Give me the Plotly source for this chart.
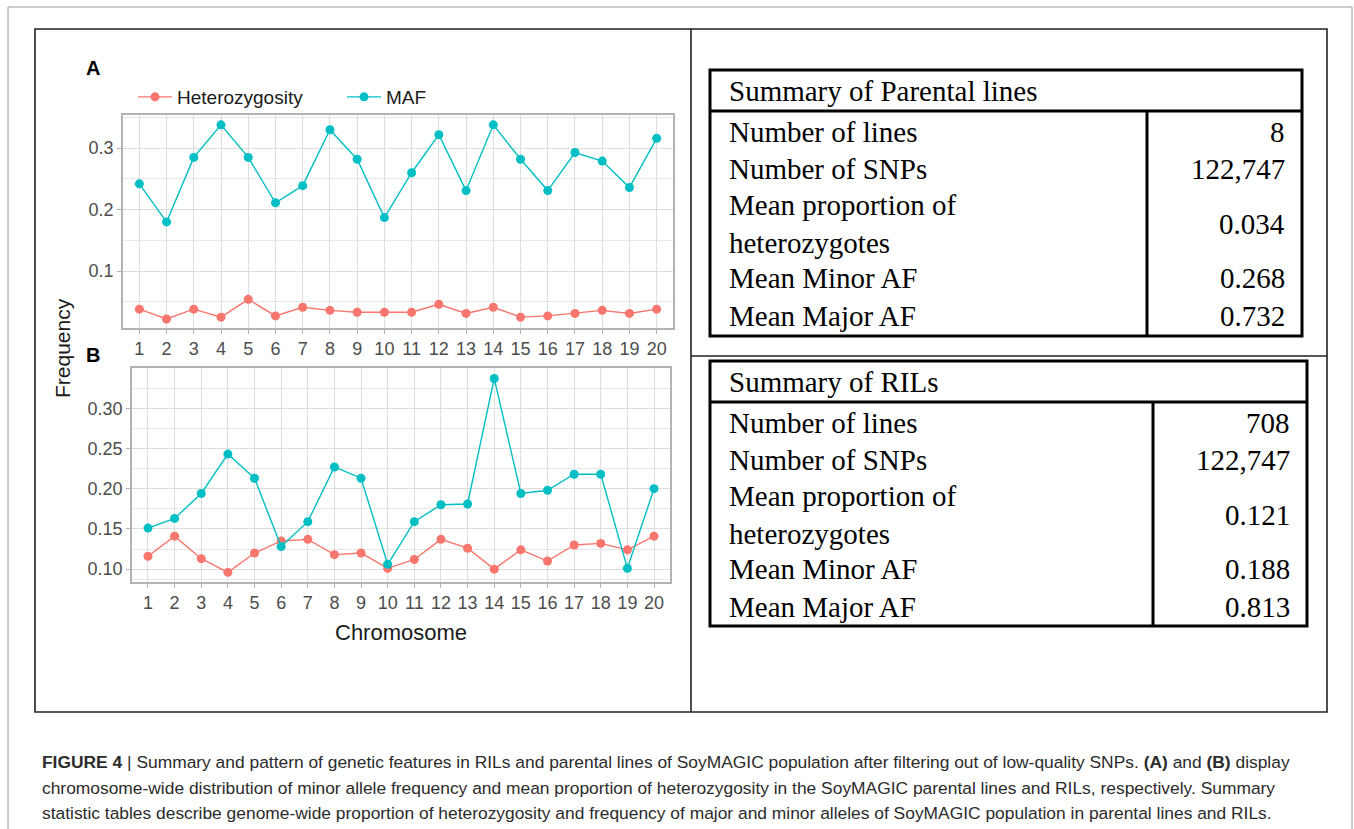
import plotly.graph_objects as go

W, H = 1354, 829

# ---------------- data ----------------
chromosomes = list(range(1, 21))

# Panel A: parental lines
parental_het = [0.038, 0.022, 0.038, 0.025, 0.054, 0.027, 0.041, 0.036, 0.033, 0.033,
                0.033, 0.046, 0.031, 0.041, 0.025, 0.027, 0.031, 0.036, 0.031, 0.038]
parental_maf = [0.242, 0.180, 0.285, 0.338, 0.285, 0.211, 0.239, 0.330, 0.282, 0.187,
                0.260, 0.322, 0.231, 0.338, 0.282, 0.231, 0.293, 0.279, 0.236, 0.316]

# Panel B: RILs
ril_het = [0.116, 0.141, 0.113, 0.096, 0.120, 0.135, 0.137, 0.118, 0.120, 0.101,
           0.112, 0.137, 0.126, 0.100, 0.124, 0.110, 0.130, 0.132, 0.124, 0.141]
ril_maf = [0.151, 0.163, 0.194, 0.243, 0.213, 0.128, 0.159, 0.227, 0.213, 0.106,
           0.159, 0.180, 0.181, 0.337, 0.194, 0.198, 0.218, 0.218, 0.101, 0.200]

series_names = ["Heterozygosity", "MAF"]

# Summary tables
parental_title = "Summary of Parental lines"
ril_title = "Summary of RILs"
table_labels = ["Number of lines", "Number of SNPs", "Mean proportion of<br>heterozygotes",
                "Mean Minor AF", "Mean Major AF"]
parental_values = ["8", "122,747", "0.034", "0.268", "0.732"]
ril_values = ["708", "122,747", "0.121", "0.188", "0.813"]

caption_lines = [
    "<b>FIGURE 4</b> | Summary and pattern of genetic features in RILs and parental lines of SoyMAGIC population after filtering out of low-quality SNPs. <b>(A)</b> and <b>(B)</b> display",
    "chromosome-wide distribution of minor allele frequency and mean proportion of heterozygosity in the SoyMAGIC parental lines and RILs, respectively. Summary",
    "statistic tables describe genome-wide proportion of heterozygosity and frequency of major and minor alleles of SoyMAGIC population in parental lines and RILs.",
]

# ---------------- styling ----------------
RED = "#F8766D"
TEAL = "#00BFC4"
GRID = "#DEDEDE"
MINOR = "#E8E8E8"
BORDER = "#B3B3B3"
TICKC = "#4D4D4D"


def px(x):
    return x / W


def py(y):
    return 1 - y / H


fig = go.Figure()

for xs, ys, name, color, ax, show in [
    (chromosomes, parental_het, series_names[0], RED, ("x", "y"), True),
    (chromosomes, parental_maf, series_names[1], TEAL, ("x", "y"), True),
    (chromosomes, ril_het, series_names[0], RED, ("x2", "y2"), False),
    (chromosomes, ril_maf, series_names[1], TEAL, ("x2", "y2"), False),
]:
    fig.add_trace(go.Scatter(
        x=xs, y=ys, name=name, mode="lines+markers",
        line=dict(color=color, width=1.4),
        marker=dict(color=color, size=9),
        xaxis=ax[0], yaxis=ax[1], showlegend=show, legendgroup=name,
    ))

tickfont = dict(family="Liberation Sans, Arial, sans-serif", size=18, color=TICKC)

xcommon = dict(range=[0.4, 20.6], tickmode="array", tickvals=chromosomes,
               ticktext=[str(c) for c in chromosomes],
               showgrid=True, gridcolor=GRID, gridwidth=1,
               showline=True, linecolor=BORDER, linewidth=1.5, mirror=True,
               ticks="outside", ticklen=4, tickcolor=BORDER, tickfont=tickfont,
               zeroline=False, fixedrange=True)

fig.update_layout(
    width=W, height=H,
    margin=dict(l=0, r=0, t=0, b=0),
    paper_bgcolor="white", plot_bgcolor="white",
    xaxis=dict(domain=[px(123), px(673)], anchor="y", **xcommon),
    yaxis=dict(domain=[py(328), py(115)], anchor="x", range=[0.0073, 0.354],
               tickmode="array", tickvals=[0.1, 0.2, 0.3], ticktext=["0.1", "0.2", "0.3"],
               showgrid=True, gridcolor=GRID, gridwidth=1,
               minor=dict(tickmode="array", tickvals=[0.05, 0.15, 0.25, 0.35],
                          showgrid=True, gridcolor=MINOR, gridwidth=1, ticklen=0),
               showline=True, linecolor=BORDER, linewidth=1.5, mirror=True,
               ticks="outside", ticklen=4, tickcolor=BORDER, tickfont=tickfont,
               zeroline=False, fixedrange=True),
    xaxis2=dict(domain=[px(132), px(670)], anchor="y2", **xcommon),
    yaxis2=dict(domain=[py(582), py(368)], anchor="x2", range=[0.084, 0.35],
                tickmode="array", tickvals=[0.10, 0.15, 0.20, 0.25, 0.30],
                ticktext=["0.10", "0.15", "0.20", "0.25", "0.30"],
                showgrid=True, gridcolor=GRID, gridwidth=1,
                minor=dict(tickmode="array", tickvals=[0.0875, 0.125, 0.175, 0.225, 0.275, 0.325],
                           showgrid=True, gridcolor=MINOR, gridwidth=1, ticklen=0),
                showline=True, linecolor=BORDER, linewidth=1.5, mirror=True,
                ticks="outside", ticklen=4, tickcolor=BORDER, tickfont=tickfont,
                zeroline=False, fixedrange=True),
    legend=dict(orientation="h", x=px(133), y=py(97), xanchor="left", yanchor="middle",
                font=dict(family="Liberation Sans, Arial, sans-serif", size=19, color="#1A1A1A"),
                bgcolor="rgba(0,0,0,0)", itemwidth=34, entrywidth=160, entrywidthmode="pixels",
                traceorder="normal"),
    showlegend=True,
)

shapes = []
# outer light frame
shapes.append(dict(type="rect", xref="paper", yref="paper", x0=px(8), x1=px(1352), y0=py(836), y1=py(7),
                   line=dict(color="#9A9A9A", width=1), fillcolor="rgba(0,0,0,0)", layer="below"))
# inner black box
shapes.append(dict(type="rect", xref="paper", yref="paper", x0=px(35), x1=px(1327), y0=py(712), y1=py(29),
                   line=dict(color="#222222", width=1.6), fillcolor="rgba(0,0,0,0)"))
# vertical divider and right horizontal divider
shapes.append(dict(type="line", xref="paper", yref="paper", x0=px(691), x1=px(691), y0=py(712), y1=py(29),
                   line=dict(color="#222222", width=1.6)))
shapes.append(dict(type="line", xref="paper", yref="paper", x0=px(691), x1=px(1327), y0=py(356), y1=py(356),
                   line=dict(color="#222222", width=1.6)))

annotations = []
serif = "Liberation Serif, Times New Roman, serif"
row_offsets = [62, 99, 154, 208, 246]


def add_table(left, right, top, header_bottom, bottom, divider, title, values):
    lw = 3
    shapes.append(dict(type="rect", xref="paper", yref="paper", x0=px(left), x1=px(right),
                       y0=py(bottom), y1=py(top), line=dict(color="black", width=lw),
                       fillcolor="rgba(0,0,0,0)"))
    shapes.append(dict(type="line", xref="paper", yref="paper", x0=px(left), x1=px(right),
                       y0=py(header_bottom), y1=py(header_bottom), line=dict(color="black", width=lw)))
    shapes.append(dict(type="line", xref="paper", yref="paper", x0=px(divider), x1=px(divider),
                       y0=py(bottom), y1=py(header_bottom), line=dict(color="black", width=lw)))
    annotations.append(dict(text=title, xref="paper", yref="paper", x=px(left + 17),
                            y=py((top + header_bottom) / 2), xanchor="left", yanchor="middle",
                            showarrow=False, font=dict(family=serif, size=29, color="black")))
    for lab, val, off in zip(table_labels, values, row_offsets):
        yc = top + off
        annotations.append(dict(text=lab, xref="paper", yref="paper", x=px(left + 17), y=py(yc),
                                xanchor="left", yanchor="middle", align="left", showarrow=False,
                                font=dict(family=serif, size=29, color="black")))
        annotations.append(dict(text=val, xref="paper", yref="paper", x=px(right - 15), y=py(yc),
                                xanchor="right", yanchor="middle", align="right", showarrow=False,
                                font=dict(family=serif, size=29, color="black")))


add_table(710, 1302, 70, 111, 336, 1147, parental_title, parental_values)
add_table(710, 1307, 361, 402, 626, 1153, ril_title, ril_values)

# panel labels
for lab, x, y in [("A", 93, 68), ("B", 93, 355)]:
    annotations.append(dict(text=f"<b>{lab}</b>", xref="paper", yref="paper", x=px(x), y=py(y),
                            xanchor="center", yanchor="middle", showarrow=False,
                            font=dict(family="Liberation Sans, Arial, sans-serif", size=20, color="black")))

# axis titles
annotations.append(dict(text="Frequency", xref="paper", yref="paper", x=px(62), y=py(348),
                        xanchor="center", yanchor="middle", textangle=-90, showarrow=False,
                        font=dict(family="Liberation Sans, Arial, sans-serif", size=21, color="#1A1A1A")))
annotations.append(dict(text="Chromosome", xref="paper", yref="paper", x=px(401), y=py(632),
                        xanchor="center", yanchor="middle", showarrow=False,
                        font=dict(family="Liberation Sans, Arial, sans-serif", size=22, color="#1A1A1A")))

# caption
for i, line in enumerate(caption_lines):
    annotations.append(dict(text=line, xref="paper", yref="paper", x=px(40), y=py(762 + 25.5 * i),
                            xanchor="left", yanchor="middle", align="left", showarrow=False,
                            font=dict(family="Liberation Sans, Arial, sans-serif", size=17.4, color="#2B2B2B")))

fig.update_layout(shapes=shapes, annotations=annotations)

fig.write_html("out.html", config={"displayModeBar": False})
